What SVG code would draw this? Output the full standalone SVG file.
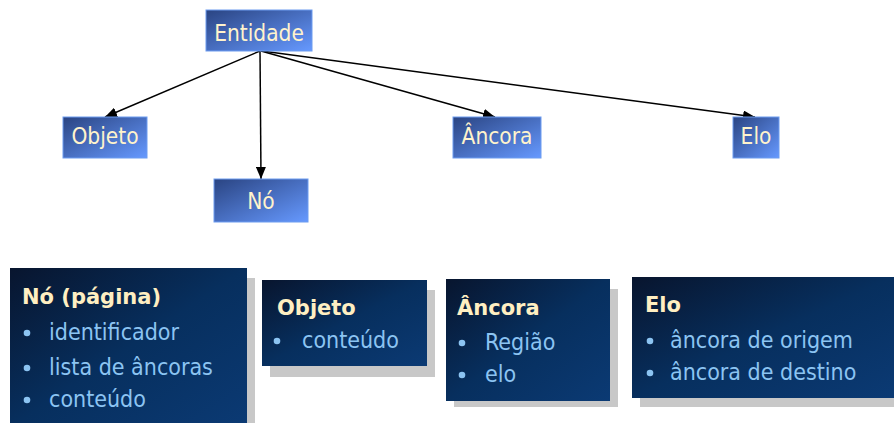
<svg xmlns="http://www.w3.org/2000/svg" width="894" height="423" viewBox="0 0 894 423">
<defs>
<linearGradient id="gTop" x1="0" y1="0" x2="1" y2="1">
<stop offset="0" stop-color="#2A4482"/>
<stop offset="1" stop-color="#6699FF"/>
</linearGradient>
<linearGradient id="gBox" x1="0" y1="0" x2="1" y2="1">
<stop offset="0" stop-color="#08152E"/>
<stop offset="0.5" stop-color="#072F5E"/>
<stop offset="1" stop-color="#0B3A74"/>
</linearGradient>
<marker id="arr" viewBox="0 0 12 10" refX="12" refY="5" markerWidth="12" markerHeight="10" markerUnits="userSpaceOnUse" orient="auto">
<path d="M0,0 L12,5 L0,10 z" fill="#000"/>
</marker>
</defs>
<style>
.node rect{fill:url(#gTop);stroke:#6C9CF0;stroke-width:1}
.node text{font-family:"DejaVu Sans Condensed","DejaVu Sans",sans-serif;font-size:22.5px;fill:#FFF3CC;text-anchor:middle}
.conn line{stroke:#000;stroke-width:1.5;marker-end:url(#arr)}
.card .sh{fill:#C8C8C8}
.card .bg{fill:url(#gBox)}
.card .t{font-family:"DejaVu Sans",sans-serif;font-weight:bold;font-size:21px;fill:#FFEFC2}
.card .i{font-family:"DejaVu Sans Condensed","DejaVu Sans",sans-serif;font-size:23px;fill:#8CC4F2}
.card circle{fill:#8CC4F2}
</style>
<g class="conn">
<line x1="260" y1="51" x2="105" y2="117"/>
<line x1="260" y1="51" x2="261" y2="179"/>
<line x1="261" y1="51" x2="495" y2="117"/>
<line x1="262" y1="51" x2="755" y2="117"/>
</g>
<g id="entidade" class="node"><rect x="206" y="10" width="106" height="41"/><text x="259" y="41">Entidade</text></g>
<g id="objeto" class="node"><rect x="63" y="117" width="84" height="41"/><text x="105" y="144">Objeto</text></g>
<g id="no" class="node"><rect x="214" y="179" width="94" height="43"/><text x="261" y="209">Nó</text></g>
<g id="ancora" class="node"><rect x="453" y="117" width="88" height="41"/><text x="497" y="144">Âncora</text></g>
<g id="elo" class="node"><rect x="733" y="117" width="46" height="41"/><text x="756" y="144">Elo</text></g>

<g id="card-no" class="card">
<rect class="sh" x="18" y="278" width="237" height="150"/>
<rect class="bg" x="10" y="268" width="237" height="160"/>
<text class="t" x="22" y="304">Nó (página)</text>
<circle cx="27" cy="333" r="3.3"/><text class="i" x="49" y="340">identificador</text>
<circle cx="27" cy="368" r="3.3"/><text class="i" x="49" y="375">lista de âncoras</text>
<circle cx="27" cy="400" r="3.3"/><text class="i" x="49" y="407">conteúdo</text>
</g>
<g id="card-objeto" class="card">
<rect class="sh" x="270" y="290" width="165" height="87"/>
<rect class="bg" x="262" y="280" width="165" height="86"/>
<text class="t" x="277" y="315">Objeto</text>
<circle cx="277" cy="341" r="3.3"/><text class="i" x="302" y="348">conteúdo</text>
</g>
<g id="card-ancora" class="card">
<rect class="sh" x="454" y="289" width="164" height="118"/>
<rect class="bg" x="446" y="279" width="164" height="122"/>
<text class="t" x="457" y="315">Âncora</text>
<circle cx="462" cy="343" r="3.3"/><text class="i" x="485" y="350">Região</text>
<circle cx="462" cy="375" r="3.3"/><text class="i" x="485" y="382">elo</text>
</g>
<g id="card-elo" class="card">
<rect class="sh" x="640" y="287" width="254" height="120"/>
<rect class="bg" x="632" y="277" width="262" height="121"/>
<text class="t" x="645" y="312">Elo</text>
<circle cx="650" cy="341" r="3.3"/><text class="i" x="670" y="348">âncora de origem</text>
<circle cx="650" cy="373" r="3.3"/><text class="i" x="670" y="380">âncora de destino</text>
</g>
</svg>
